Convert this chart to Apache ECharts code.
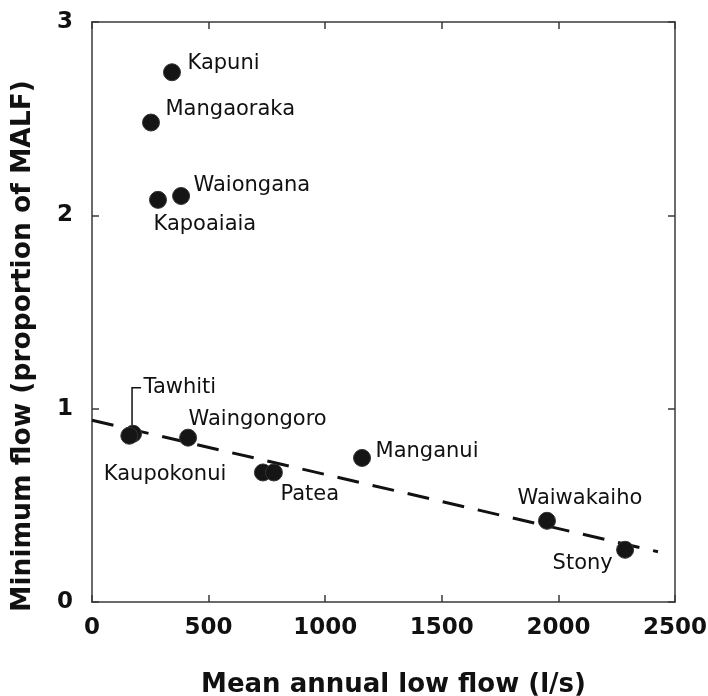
<!DOCTYPE html>
<html>
<head>
<meta charset="utf-8">
<script src="https://cdn.jsdelivr.net/npm/echarts@6/dist/echarts.min.js"></script>
<style>
  html, body { margin: 0; padding: 0; background: #fff; }
  #chart { width: 708px; height: 696px; }
</style>
</head>
<body>
<div id="chart"></div>
<script>
// Minimum flow (as a proportion of MALF) against mean annual low flow, per river site
const sites = ['Kapuni', 'Mangaoraka', 'Waiongana', 'Kapoaiaia', 'Tawhiti', 'Kaupokonui',
               'Waingongoro', 'Patea', 'Patea', 'Manganui', 'Waiwakaiho', 'Stony'];
const meanLowFlow = [343, 253, 382, 283, 176, 160, 412, 733, 780, 1158, 1951, 2286];
const minFlowRatio = [2.74, 2.48, 2.10, 2.08, 0.87, 0.86, 0.85, 0.67, 0.67, 0.745, 0.42, 0.27];

// Fitted trend line end points
const trendFlow = [0, 2427];
const trendRatio = [0.94, 0.26];

// Axis ticks
const xTickValues = [0, 500, 1000, 1500, 2000, 2500];
const yTickValues = [0, 1, 2, 3];

// Label placement relative to each marker centre: [dx, dy]
const labelPlacement = {
  Kapuni: [15, -9],
  Mangaoraka: [14, -13],
  Waiongana: [12, -10],
  Kapoaiaia: [-5, 25],
  Tawhiti: [10, -46],
  Kaupokonui: [-26, 39],
  Waingongoro: [0, -18],
  Patea: [17, 22],
  Manganui: [13, -6],
  Waiwakaiho: [-30, -22],
  Stony: [-73, 14]
};

const INK = '#111';
const AXIS = '#3a3a3a';
const LABEL_FONT = 'DejaVu Sans';
const AXIS_FONT = 'DejaVu Sans';
const MARKER = 17;

const labelled = new Set();
const points = sites.map((name, i) => {
  const place = labelPlacement[name];
  const show = !!place && !labelled.has(name);
  labelled.add(name);
  return {
    name,
    value: [meanLowFlow[i], minFlowRatio[i]],
    label: show ? {
      show: true,
      position: 'right',
      distance: 0,
      align: 'left',
      verticalAlign: 'middle',
      offset: [place[0] - MARKER / 2, place[1]],
      formatter: '{b}',
      color: INK,
      textBorderWidth: 0,
      fontFamily: LABEL_FONT,
      fontSize: 21
    } : { show: false }
  };
});

const trend = trendFlow.map((x, i) => [x, trendRatio[i]]);

const tickStyle = { color: AXIS, width: 1.5 };
const lineStyle = { color: AXIS, width: 1.5 };
const tickText = { fontFamily: AXIS_FONT, fontWeight: 'bold', fontSize: 23, color: INK };
const titleText = { fontFamily: AXIS_FONT, fontWeight: 'bold', fontSize: 26, color: INK };

function xAxisBase(extra) {
  return Object.assign({
    type: 'value',
    min: xTickValues[0],
    max: xTickValues[xTickValues.length - 1],
    interval: xTickValues[1] - xTickValues[0],
    splitLine: { show: false },
    axisLine: { show: true, onZero: false, lineStyle },
    axisTick: { show: true, inside: true, length: 7, lineStyle: tickStyle }
  }, extra);
}
function yAxisBase(extra) {
  return Object.assign({
    type: 'value',
    min: yTickValues[0],
    max: yTickValues[yTickValues.length - 1],
    interval: yTickValues[1] - yTickValues[0],
    splitLine: { show: false },
    axisLine: { show: true, onZero: false, lineStyle },
    axisTick: { show: true, inside: true, length: 7, lineStyle: tickStyle }
  }, extra);
}

const chart = echarts.init(document.getElementById('chart'), null, { renderer: 'canvas' });

chart.setOption({
  animation: false,
  backgroundColor: '#fff',
  grid: { left: 92, right: 33, top: 22, bottom: 94, containLabel: false, outerBoundsMode: 'none' },
  xAxis: [
    xAxisBase({
      position: 'bottom',
      name: 'Mean annual low flow (l/s)',
      nameLocation: 'middle',
      nameGap: 70,
      nameTextStyle: Object.assign({ padding: [0, 0, 0, 20] }, titleText),
      axisLabel: Object.assign({ show: true, margin: 15, formatter: v => String(v) }, tickText)
    }),
    xAxisBase({ position: 'top', axisLabel: { show: false } })
  ],
  yAxis: [
    yAxisBase({
      position: 'left',
      name: 'Minimum flow (proportion of MALF)',
      nameLocation: 'middle',
      nameRotate: 90,
      nameGap: 55,
      nameTextStyle: Object.assign({}, titleText, { fontSize: 26.5, padding: [0, 68, 0, 0] }),
      axisLabel: Object.assign({ show: true, margin: 19, formatter: v => String(v) }, tickText)
    }),
    yAxisBase({ position: 'right', axisLabel: { show: false } })
  ],
  series: [
    {
      type: 'line',
      data: trend,
      symbol: 'none',
      silent: true,
      z: 2,
      lineStyle: { color: INK, width: 3, type: [22, 14] }
    },
    {
      type: 'scatter',
      data: points,
      symbol: 'circle',
      symbolSize: MARKER,
      z: 3,
      itemStyle: { color: '#151515', opacity: 1, borderColor: '#333', borderWidth: 1 }
    }
  ]
});

// Leader line tying the Tawhiti label to its marker
(function drawLeader() {
  const i = sites.indexOf('Tawhiti');
  const p = chart.convertToPixel({ gridIndex: 0 }, [meanLowFlow[i], minFlowRatio[i]]);
  const dx = labelPlacement.Tawhiti[0];
  const dy = labelPlacement.Tawhiti[1];
  chart.setOption({
    graphic: [{
      type: 'polyline',
      silent: true,
      shape: { points: [[p[0] - 1, p[1] - 6], [p[0] - 1, p[1] + dy], [p[0] + dx - 2, p[1] + dy]] },
      style: { stroke: INK, lineWidth: 1.5, fill: null }
    }]
  });
})();
</script>
</body>
</html>
